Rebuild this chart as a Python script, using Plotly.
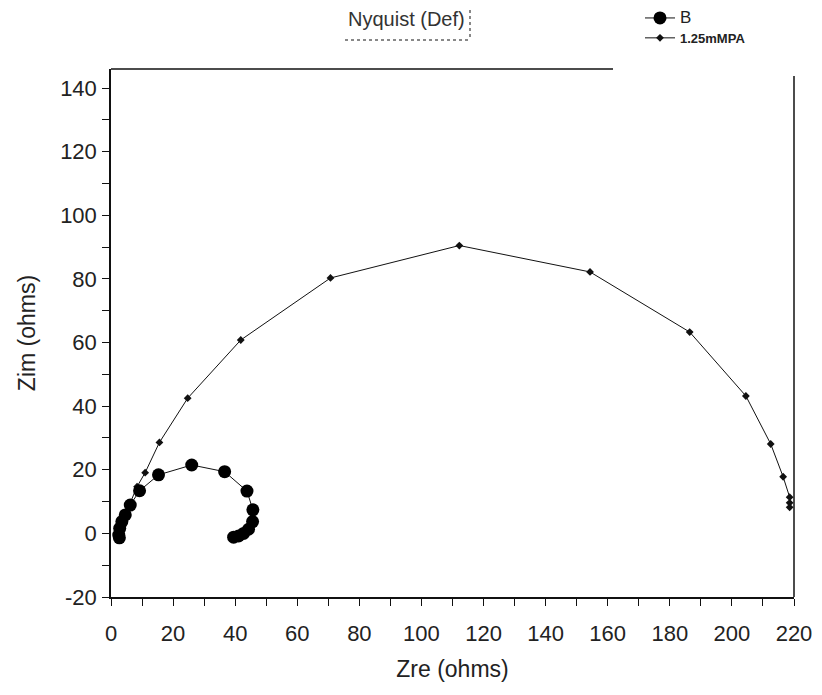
import plotly.graph_objects as go

# Series B
b_zre = [2.7, 2.5, 2.8, 3.5, 4.6, 6.2, 9.2, 15.3, 26.0, 36.6, 43.8, 45.7, 45.6, 44.3, 42.7, 41.1, 39.5]
b_zim = [-1.4, -0.5, 1.6, 3.7, 5.8, 8.9, 13.4, 18.4, 21.5, 19.4, 13.3, 7.4, 3.7, 1.3, 0.0, -0.8, -1.2]

# Series 1.25mMPA
mpa_zre = [2.6, 3.2, 4.2, 5.8, 8.4, 11.0, 15.6, 24.7, 41.8, 70.7, 112.2, 154.3, 186.4, 204.5, 212.5, 216.5, 218.6, 218.6, 218.6]
mpa_zim = [-0.5, 2.5, 5.0, 8.5, 14.7, 19.1, 28.6, 42.5, 60.8, 80.3, 90.5, 82.2, 63.3, 43.2, 28.1, 17.8, 11.4, 9.6, 8.2]

x_ticks = list(range(0, 221, 20))
x_labels = [str(v) for v in x_ticks]
y_ticks = list(range(-20, 141, 20))
y_labels = [str(v) for v in y_ticks]

OFF = 8  # page body margin
W, H = 822 - OFF, 695 - OFF
# target screen positions of the plot frame
SL, SR, ST, SB = 111, 794, 69, 597
ML, MT = SL - OFF, ST - OFF
MR, MB = W - (SR - OFF), H - (SB - OFF)
PW, PH = W - ML - MR, H - MT - MB

def px(xs):
    return (xs - OFF - ML) / PW

def py(ys):
    return (H - MB - (ys - OFF)) / PH

fig = go.Figure()
fig.add_trace(go.Scatter(
    x=mpa_zre, y=mpa_zim, mode="lines+markers",
    name="<b>1.25mMPA</b>", legendrank=2,
    line=dict(color="#111", width=1),
    marker=dict(symbol="diamond", size=6, color="#111"),
))
fig.add_trace(go.Scatter(
    x=b_zre, y=b_zim, mode="lines+markers",
    name="<span style='font-size:17px'>B</span>", legendrank=1,
    line=dict(color="#111", width=1),
    marker=dict(symbol="circle", size=13, color="#000"),
))

tick_font = dict(family="Arial, Liberation Sans, sans-serif", size=22, color="#222")
title_font = dict(family="Arial, Liberation Sans, sans-serif", size=23, color="#222")

fig.update_xaxes(
    range=[0, 220], tickvals=x_ticks, ticktext=x_labels, ticks="outside", ticklen=7, tickwidth=1.2,
    tickcolor="#111", showline=True, linecolor="#111", linewidth=1.5,
    showgrid=False, zeroline=False, tickfont=tick_font, ticklabelstandoff=9,
    minor=dict(dtick=10, ticks="outside", ticklen=7, tickcolor="#111", showgrid=False),
    title=dict(text="Zre (ohms)", font=title_font, standoff=16),
)
fig.update_yaxes(
    range=[-20, 146], tickvals=y_ticks, ticktext=y_labels, ticks="outside", ticklen=7, tickwidth=1.2,
    tickcolor="#111", showline=True, linecolor="#111", linewidth=1.5,
    showgrid=False, zeroline=False, tickfont=tick_font, ticklabelstandoff=1,
    minor=dict(dtick=10, ticks="outside", ticklen=7, tickcolor="#111", showgrid=False),
    title=dict(text="Zim (ohms)", font=title_font, standoff=18),
)

shapes = [
    dict(type="line", xref="paper", yref="paper", x0=0, x1=px(613), y0=1, y1=1,
         line=dict(color="#111", width=1.5)),
    dict(type="line", xref="paper", yref="paper", x0=1, x1=1, y0=0, y1=py(76),
         line=dict(color="#111", width=1.5)),
    dict(type="line", xref="paper", yref="paper", x0=px(345), x1=px(470), y0=py(40), y1=py(40),
         line=dict(color="#888", width=2, dash="dot")),
    dict(type="line", xref="paper", yref="paper", x0=px(470), x1=px(470), y0=py(4), y1=py(40),
         line=dict(color="#888", width=2, dash="dot")),
]

fig.update_layout(
    width=W, height=H,
    margin=dict(l=ML, r=MR, t=MT, b=MB, autoexpand=False),
    paper_bgcolor="white", plot_bgcolor="white",
    font=dict(family="Arial, Liberation Sans, sans-serif", color="#222"),
    shapes=shapes,
    annotations=[dict(text="Nyquist (Def)", xref="paper", yref="paper",
                      x=px(406), y=py(19), xanchor="center", yanchor="middle",
                      showarrow=False, font=dict(size=20, color="#333"))],
    legend=dict(x=px(640), y=py(3), xanchor="left", yanchor="top",
                bgcolor="rgba(0,0,0,0)", borderwidth=0,
                font=dict(size=13, color="#222"), tracegroupgap=0,
                itemwidth=30),
    showlegend=True,
)

fig.write_html("out.html")
